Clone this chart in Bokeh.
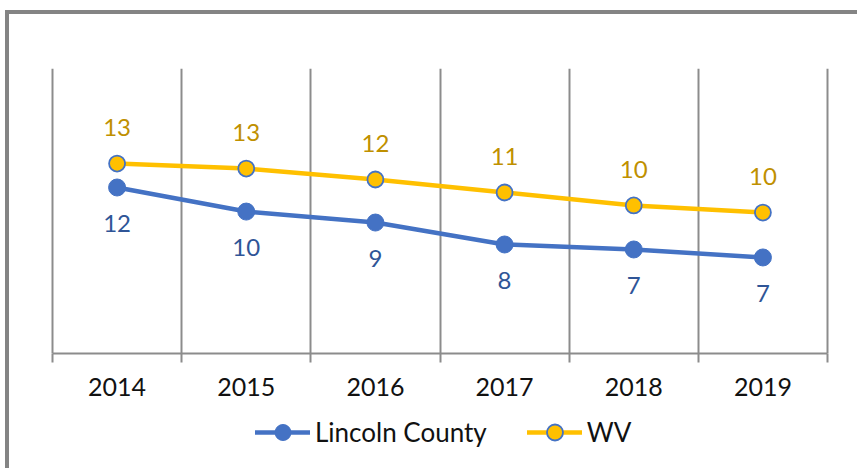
from bokeh.plotting import figure
from bokeh.layouts import column
from bokeh.models import Range1d, FixedTicker, Legend, LegendItem, ColumnDataSource
from bokeh.embed import file_html
from bokeh.resources import INLINE
from bokeh.core.properties import value

years = ["2014", "2015", "2016", "2017", "2018", "2019"]
lincoln = [11.65, 9.96, 9.19, 7.65, 7.30, 6.74]
wv = [13.33, 12.98, 12.21, 11.30, 10.39, 9.89]
series_names = ["Lincoln County", "WV"]

BLUE = "#4472C4"
GOLD = "#FFC000"
FONT = "Lato"
PAD = 0.0233

n = len(years)
x = [i + 0.5 for i in range(n)]
src = ColumnDataSource(dict(
    x=x, lincoln=lincoln, wv=wv,
    lincoln_lbl=[f"{v:.0f}" for v in lincoln],
    wv_lbl=[f"{v:.0f}" for v in wv],
))

p = figure(frame_width=781, frame_height=285, output_backend="svg", toolbar_location=None,
           x_range=Range1d(-PAD, n + PAD), y_range=Range1d(0, 20),
           min_border_left=40, min_border_right=27, min_border_top=54,
           min_border_bottom=58)
p.outline_line_color = None
p.background_fill_color = "white"
p.border_fill_color = "white"
p.yaxis.visible = False
p.ygrid.visible = False

p.xgrid.ticker = FixedTicker(ticks=list(range(n + 1)))
p.xgrid.grid_line_color = "#8c8c8c"
p.xgrid.grid_line_width = 2

ax = p.xaxis[0]
ax.bounds = (0, n)
ax.ticker = FixedTicker(ticks=x, minor_ticks=list(range(n + 1)))
ax.major_label_overrides = {xi: y for xi, y in zip(x, years)}
ax.axis_line_color = "#8c8c8c"
ax.axis_line_width = 2
ax.major_tick_line_color = None
ax.major_tick_out = 9
ax.major_tick_in = 0
ax.minor_tick_line_color = "#8c8c8c"
ax.minor_tick_line_width = 2
ax.minor_tick_out = 9
ax.minor_tick_in = 0
ax.major_label_standoff = 15
ax.major_label_text_font = FONT
ax.major_label_text_font_size = "25px"
ax.major_label_text_color = "#111111"

line_kw = dict(line_width=4.5, line_join="round", line_cap="round")
p.line("x", "lincoln", source=src, line_color=BLUE, **line_kw)
p.scatter("x", "lincoln", source=src, size=17, fill_color=BLUE, line_color=BLUE, line_width=1)
p.line("x", "wv", source=src, line_color=GOLD, **line_kw)
p.scatter("x", "wv", source=src, size=16, fill_color=GOLD, line_color=BLUE, line_width=1.8)

p.text("x", "wv", text="wv_lbl", source=src, y_offset=-36, text_align="center",
       text_baseline="middle", text_font=value(FONT), text_font_size="24px",
       text_color="#BF9000")
p.text("x", "lincoln", text="lincoln_lbl", source=src, y_offset=36, text_align="center",
       text_baseline="middle", text_font=value(FONT), text_font_size="24px",
       text_color="#2F5597")

# legend strip below the chart: same series, drawn off-view so only the legend shows
p2 = figure(width=848, height=57, output_backend="svg", toolbar_location=None,
            x_range=Range1d(100, 101), y_range=Range1d(100, 101),
            min_border=0, x_axis_type=None, y_axis_type=None)
p2.outline_line_color = None
p2.grid.visible = False
p2.border_fill_color = "white"
k1 = p2.line("x", "lincoln", source=src, line_color=BLUE, **line_kw)
m1 = p2.scatter("x", "lincoln", source=src, fill_color=BLUE, line_color=BLUE, line_width=1)
k2 = p2.line("x", "wv", source=src, line_color=GOLD, **line_kw)
m2 = p2.scatter("x", "wv", source=src, fill_color=GOLD, line_color=BLUE, line_width=1.8)

legend = Legend(items=[
    LegendItem(label=series_names[0], renderers=[k1, m1]),
    LegendItem(label=series_names[1], renderers=[k2, m2]),
], orientation="horizontal", location=(206, 16))
legend.label_text_font = FONT
legend.label_text_font_size = "26px"
legend.label_text_color = "#111111"
legend.glyph_width = 55
legend.glyph_height = 40
legend.label_standoff = 5
legend.spacing = 40
legend.padding = 0
legend.margin = 0
legend.border_line_color = None
legend.background_fill_alpha = 0
p2.add_layout(legend)

layout = column(p, p2, spacing=0)
layout.styles = {"border-top": "4px solid #848484", "border-left": "4px solid #848484",
                 "margin-left": "5px", "margin-top": "10px"}

open("out.html", "w").write(file_html(layout, INLINE))
